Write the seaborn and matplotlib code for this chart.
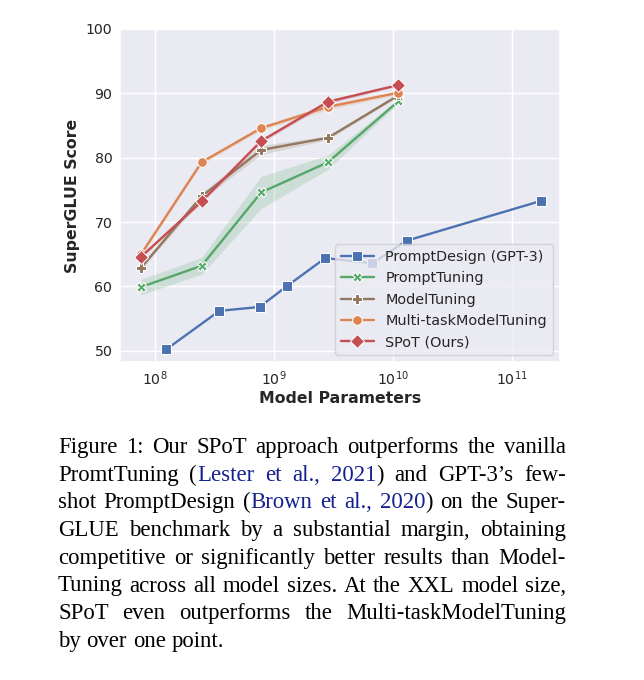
import matplotlib
matplotlib.use("Agg")
import numpy as np
import pandas as pd
import seaborn as sns
import matplotlib.pyplot as plt

# ---------------- data ----------------
METHODS = ["PromptDesign (GPT-3)", "PromptTuning", "ModelTuning",
           "Multi-taskModelTuning", "SPoT (Ours)"]
MARKERS = ["s", "X", "P", "o", "D"]
COLORS = ["#4C72B0", "#55A868", "#937860", "#DD8452", "#C44E52"]

GPT3_PARAMS = [1.25e8, 3.5e8, 7.6e8, 1.3e9, 2.7e9, 6.7e9, 1.3e10, 1.75e11]
GPT3_SCORES = [50.2, 56.2, 56.8, 60.1, 64.4, 63.6, 67.1, 73.3]

T5_PARAMS = [7.7e7, 2.48e8, 7.83e8, 2.85e9, 1.11e10]
PROMPT_TUNING = [59.9, 63.2, 74.6, 79.3, 88.8]
PROMPT_TUNING_ERR = [1.2, 1.3, 2.5, 1.1, 0.3]
MODEL_TUNING = [62.9, 74.0, 81.2, 83.1, 89.7]
MODEL_TUNING_ERR = [0.3, 0.5, 0.7, 0.3, 0.2]
MULTITASK = [65.0, 79.3, 84.6, 87.9, 90.1]
MULTITASK_ERR = [0.3, 0.3, 0.3, 0.4, 0.3]
SPOT = [64.6, 73.2, 82.6, 88.7, 91.3]
SPOT_ERR = [0.2, 0.3, 0.3, 0.3, 0.2]

X_TICKS = [1e8, 1e9, 1e10, 1e11]
Y_TICKS = [50, 60, 70, 80, 90, 100]

CAPTION_LINES = [
    "Figure 1: Our SPoT approach outperforms the vanilla",
    "PromtTuning ([Lester et al., 2021]) and GPT-3\u2019s few-",
    "shot PromptDesign ([Brown et al., 2020]) on the Super-",
    "GLUE benchmark by a substantial margin, obtaining",
    "competitive or significantly better results than Model-",
    "Tuning across all model sizes. At the XXL model size,",
    "SPoT even outperforms the Multi-taskModelTuning",
    "by over one point.",
]

# ---------------- build table ----------------
rows = []
for p, s in zip(GPT3_PARAMS, GPT3_SCORES):
    rows.append((METHODS[0], p, s))
t5_series = [PROMPT_TUNING, MODEL_TUNING, MULTITASK, SPOT]
t5_errs = [PROMPT_TUNING_ERR, MODEL_TUNING_ERR, MULTITASK_ERR, SPOT_ERR]
for m, vals in zip(METHODS[1:], t5_series):
    for p, s in zip(T5_PARAMS, vals):
        rows.append((m, p, s))
df = pd.DataFrame(rows, columns=["method", "params", "score"])

# ---------------- plot ----------------
sns.set_theme(style="darkgrid")
plt.rcParams["font.family"] = ["DejaVu Sans"]

W, H = 644, 680
fig = plt.figure(figsize=(W / 100, H / 100), dpi=100)
ax = fig.add_axes([120 / W, 1 - 362 / H, 440 / W, 333 / H])

sns.lineplot(data=df, x="params", y="score", hue="method", style="method",
             hue_order=METHODS, style_order=METHODS, palette=COLORS,
             markers=MARKERS, dashes=False, errorbar=None, linewidth=1.7,
             markersize=7, ax=ax)

for m, vals, errs, c in zip(METHODS[1:], t5_series, t5_errs, COLORS[1:]):
    v = np.array(vals)
    e = np.array(errs)
    ax.fill_between(T5_PARAMS, v - e, v + e, color=c, alpha=0.2, lw=0,
                    zorder=1)

ax.set_xscale("log")
ax.set_xlim(10 ** 7.71, 10 ** 11.40)
ax.set_ylim(48.25, 100)
ax.set_xticks(X_TICKS)
ax.set_yticks(Y_TICKS)
ax.tick_params(axis="both", which="both", labelsize=10.2, length=0, pad=5.5)
ax.set_xlabel("Model Parameters", fontsize=11.3, fontweight="bold",
              labelpad=2)
ax.set_ylabel("SuperGLUE Score", fontsize=11.3, fontweight="bold",
              labelpad=4)

sns.move_legend(ax, "lower right", title=None, fontsize=10.4,
                handlelength=2.3)

# ---------------- caption ----------------
renderer = fig.canvas.get_renderer()
CAP_FONT = dict(family=["Liberation Serif", "DejaVu Serif"], fontsize=16.4)
BLUE = "#14218f"
left_px, right_px = 58, 566
base0, step = 453, 27.7


def split_word(word, state):
    segs, cur = [], ""
    for ch in word:
        if ch in "[]":
            if cur:
                segs.append((cur, state))
                cur = ""
            state = ch == "["
        else:
            cur += ch
    if cur:
        segs.append((cur, state))
    return segs, state


state = False
space_t = fig.text(0, 0, "a a", **CAP_FONT)
aa_t = fig.text(0, 0, "aa", **CAP_FONT)
space_w = (space_t.get_window_extent(renderer).width
           - aa_t.get_window_extent(renderer).width)
space_t.remove()
aa_t.remove()

for i, line in enumerate(CAPTION_LINES):
    y = 1 - (base0 + i * step) / H
    words = line.split(" ")
    word_items = []
    for w in words:
        segs, state = split_word(w, state)
        items = []
        for txt, blue in segs:
            t = fig.text(0, y, txt, color=BLUE if blue else "black",
                         va="baseline", ha="left", **CAP_FONT)
            wpx = t.get_window_extent(renderer).width
            items.append((t, wpx))
        word_items.append(items)
    total = sum(wpx for items in word_items for _, wpx in items)
    last = i == len(CAPTION_LINES) - 1
    gap = space_w if last or len(word_items) < 2 else \
        (right_px - left_px - total) / (len(word_items) - 1)
    x = left_px
    for items in word_items:
        for t, wpx in items:
            t.set_position((x / W, y))
            x += wpx
        x += gap

fig.savefig("out.png", dpi=100)
